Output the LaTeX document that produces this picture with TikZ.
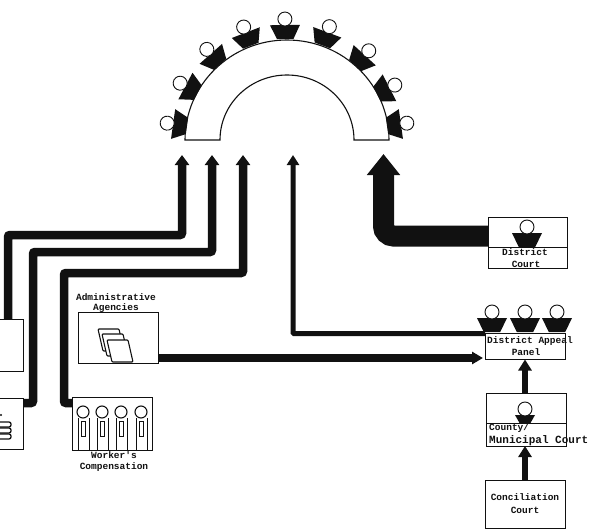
\documentclass[tikz,border=0pt]{standalone}
\usepackage{fontspec}
\setmonofont{Liberation Mono}
\usetikzlibrary{arrows.meta}
\definecolor{ink}{HTML}{111111}
\tikzset{
  every node/.style={font=\fontsize{9.5}{11}\selectfont\ttfamily\bfseries, text=ink},
  % --- nodes
  mod/.style   = {draw=ink, fill=white, line width=0.9pt, inner sep=0pt, outer sep=0pt},
  lbl/.style   = {inner sep=0pt, fill=none},
  % --- edges
  feed/.style  = {draw=ink, line width=8.5pt, rounded corners=2pt,
                  -{Triangle[width=14pt,length=10pt]}},
  ethin/.style = {draw=ink, line width=5pt, rounded corners=1pt,
                  -{Triangle[width=12pt,length=10pt]}},
  ebig/.style  = {draw=ink, line width=21pt, rounded corners=10pt,
                  -{Triangle[width=32pt,length=21pt]}},
  eup/.style   = {draw=ink, line width=6pt, -{Triangle[width=13pt,length=11pt]}},
  % --- icons
  pics/judge/.style 2 args = {code={
    \fill[ink] (-#1,-#2) -- (#1,-#2) -- (#1*0.55,#2) -- (-#1*0.55,#2) -- cycle;
    \draw[ink, line width=0.9pt, fill=white] (0,-#2-6) circle (7);
  }},
  pics/sheet/.style = {code={
    \draw[ink, line width=1.1pt, fill=white, rounded corners=1pt]
      (0,0) -- (21,0) -- (26,22) -- (5,22) -- cycle;
  }},
  pics/worker/.style = {code={
    \draw[ink, line width=1pt] (-5,6) -- (-5,38) (6,6) -- (6,38);
    \draw[ink, line width=1pt] (-2,9) rectangle (2,24);
    \draw[ink, line width=1.1pt, fill=white] (0,0) circle (6);
  }},
}
\begin{document}
\begin{tikzpicture}[x=1pt,y=-1pt]
  \useasboundingbox (0,0) rectangle (590,530);

  % bench
  \draw[ink, line width=1.1pt, fill=white] (185,140) arc[start angle=180, end angle=360, x radius=102, y radius=100]
    -- (354,140) arc[start angle=360, end angle=180, x radius=67, y radius=65] -- cycle;
  \foreach \ang in {172,152,131.5,111,91,69.5,47.5,27,8}
    \pic[rotate=\ang-90] at ({287+108*cos(\ang)},{140-108*sin(\ang)}) {judge={15}{7}};

  % boxes
  \node[mod, minimum width=53, minimum height=52] (tribunal) at (-3.5,345) {};
  \node[mod, minimum width=53, minimum height=51] (police) at (-3.5,423.5) {};
  \node[mod, minimum width=80, minimum height=51] (admin) at (118,337.5) {};
  \node[mod, minimum width=80, minimum height=53] (workers) at (112,423.5) {};
  \node[mod, minimum width=79, minimum height=51] (district) at (527.5,242.5) {};
  \node[mod, minimum width=80, minimum height=26] (appeal) at (525,346.5) {};
  \node[mod, minimum width=80, minimum height=53] (county) at (526,419.5) {};
  \node[mod, minimum width=80, minimum height=48] (concil) at (525,504) {};
  \draw[ink, line width=0.9pt] (district.west |- 0,247) -- (district.east |- 0,247);
  \draw[ink, line width=0.9pt] (county.west |- 0,423) -- (county.east |- 0,423);

  % judges in boxes
  \pic at (527,240) {judge={15}{7}};
  \foreach \jx in {492,525,557}
    \pic at (\jx,325) {judge={15}{7}};
  \pic at (525,419) {judge={10}{4}};

  % icons
  \foreach \sx/\sy in {98/329,102/334,107/340}
    \pic at (\sx,\sy) {sheet};
  \foreach \wx in {83,102,121,141}
    \pic at (\wx,412) {worker};
  \foreach \hy in {422,428,434}
    \draw[ink, line width=1.3pt, rounded corners=2pt] (-4,\hy) rectangle (11,\hy+5);
  \fill[ink] (1,415) circle (1.2);

  % labels
  \node[lbl] (adminname) at (116,297) {Administrative};
  \node[lbl] (adminnamea) at (116,308) {Agencies};
  \node[lbl] (workersname) at (114,455) {Worker's};
  \node[lbl] (workersnamea) at (114,467) {Compensation};
  \node[lbl] (districtname) at (525,252) {District};
  \node[lbl] (districtnamea) at (526,264) {Court};
  \node[lbl] (appealname) at (530,341) {District Appeal};
  \node[lbl] (appealnamea) at (526,352) {Panel};
  \node[lbl, anchor=west] (countyname) at (489,428) {County/};
  \node[lbl, anchor=west, font=\fontsize{11}{12}\selectfont\ttfamily\bfseries] (countynamea) at (489,441) {Municipal Court};
  \node[lbl] (concilname) at (525,497) {Conciliation};
  \node[lbl] (concilnamea) at (525,510) {Court};

  % into the bench
  \coordinate (in1) at (182,155);
  \coordinate (in2) at (212,155);
  \coordinate (in3) at (243,155);
  \coordinate (in4) at (293,155);
  \coordinate (in5) at (383.5,154);
  \coordinate (tribunalout) at (8,319);
  \coordinate (policeout) at (23,403);
  \coordinate (workersout) at (72,403);
  \draw[feed] (tribunalout) |- (182,235) -- (in1);
  \draw[feed] (policeout) -- (33,403) |- (212,252) -- (in2);
  \draw[feed] (workersout) -- (64,403) |- (243,273) -- (in3);
  \draw[ethin] (appeal.north west) -| (in4);
  \draw[ebig] (district.west |- 0,236) -| (in5);

  % towards the panel
  \coordinate (adminout) at (158,358);
  \coordinate (panelin) at (483,358);
  \draw[feed, line width=7.5pt, -{Triangle[width=12pt,length=11pt]}] (adminout) -- (panelin);
  \draw[eup] (county.north -| appeal.south) -- (appeal.south);
  \draw[eup] (concil.north) -- (county.south -| concil.north);
\end{tikzpicture}
\end{document}
